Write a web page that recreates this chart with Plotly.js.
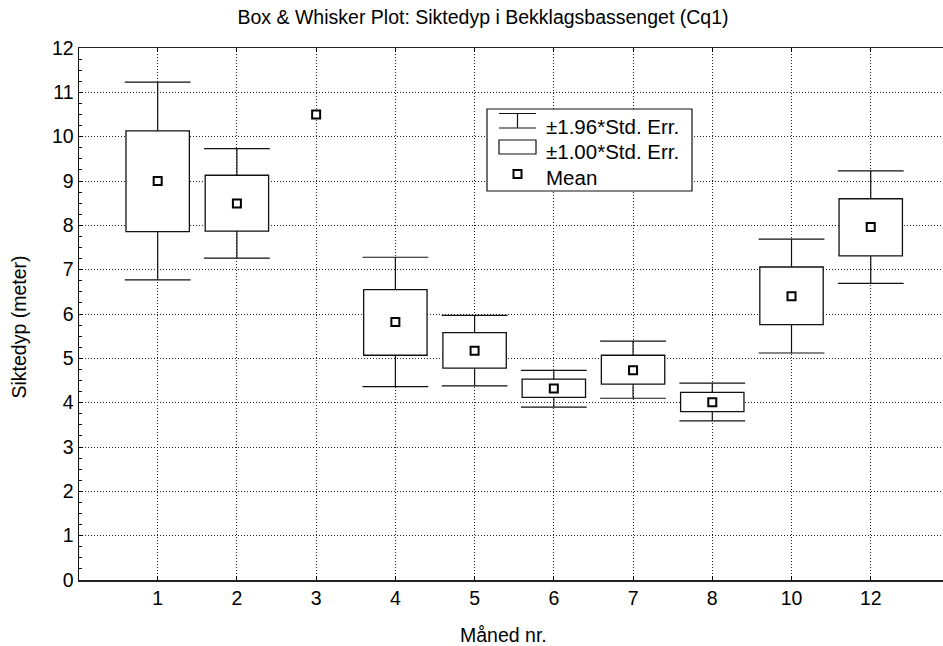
<!DOCTYPE html>
<html>
<head>
<meta charset="utf-8">
<script src="https://cdn.plot.ly/plotly-3.0.1.min.js"></script>
<style>html,body{margin:0;padding:0;background:#fff;}#chart{width:943px;height:646px;}</style>
</head>
<body>
<div id="chart"></div>
<script>
// Data
const months = ['1', '2', '3', '4', '5', '6', '7', '8', '10', '12'];
const means = [9.00, 8.49, 10.50, 5.82, 5.17, 4.32, 4.73, 4.01, 6.40, 7.96];
const boxLow = [7.86, 7.87, null, 5.07, 4.78, 4.12, 4.42, 3.80, 5.76, 7.31];   // mean - 1.00*SE
const boxHigh = [10.13, 9.13, null, 6.55, 5.58, 4.53, 5.07, 4.23, 7.06, 8.60]; // mean + 1.00*SE
const whiskerLow = [6.77, 7.26, null, 4.36, 4.38, 3.90, 4.10, 3.59, 5.12, 6.69];   // mean - 1.96*SE
const whiskerHigh = [11.23, 9.73, null, 7.28, 5.97, 4.73, 5.39, 4.44, 7.69, 9.23]; // mean + 1.96*SE
const yTicks = [0, 1, 2, 3, 4, 5, 6, 7, 8, 9, 10, 11, 12];

const FONT = 'Liberation Sans, Arial, sans-serif';
const FS = 19.5;

// whisker stems: box edge -> whisker end, separated by gaps
const stemX = [], stemY = [];
months.forEach((m, i) => {
  if (boxLow[i] === null) return;
  stemX.push(m, m, null, m, m, null);
  stemY.push(whiskerLow[i], boxLow[i], null, boxHigh[i], whiskerHigh[i], null);
});
const capX = [], capY = [];
months.forEach((m, i) => {
  if (whiskerLow[i] === null) return;
  capX.push(m, m);
  capY.push(whiskerLow[i], whiskerHigh[i]);
});

const traces = [
  {
    type: 'bar', name: '±1.00*Std. Err.', x: months,
    base: boxLow,
    y: boxHigh.map((h, i) => h === null ? null : h - boxLow[i]),
    width: 0.8,
    marker: {color: '#ffffff', line: {color: '#111', width: 1.3}},
    showlegend: false, hoverinfo: 'skip'
  },
  {
    type: 'scatter', mode: 'lines', name: '±1.96*Std. Err.', x: stemX, y: stemY,
    line: {color: '#111', width: 1.2}, connectgaps: false, showlegend: false, hoverinfo: 'skip'
  },
  {
    type: 'scatter', mode: 'markers', x: capX, y: capY, showlegend: false, hoverinfo: 'skip',
    marker: {symbol: 'line-ew', size: 47, line: {color: '#111', width: 1.2}}
  },
  {
    type: 'scatter', mode: 'markers', name: 'Mean', x: months, y: means, showlegend: false,
    marker: {symbol: 'square', size: 8, color: '#fff', line: {color: '#000', width: 2}}
  }
];

// pixel -> paper helpers for the hand-drawn legend
const L = 79, R = 943, T = 48, B = 580;
const px = v => (v - L) / (R - L);
const py = v => (B - v) / (B - T);

const shapes = [
  // legend frame
  {type: 'rect', xref: 'paper', yref: 'paper', x0: px(487), x1: px(692), y0: py(109), y1: py(191),
   line: {color: '#111', width: 1.2}, fillcolor: '#fff', layer: 'above'},
  // whisker symbol
  {type: 'line', xref: 'paper', yref: 'paper', x0: px(499), x1: px(536), y0: py(113.5), y1: py(113.5), line: {color: '#111', width: 1.2}, layer: 'above'},
  {type: 'line', xref: 'paper', yref: 'paper', x0: px(499), x1: px(536), y0: py(128), y1: py(128), line: {color: '#111', width: 1.2}, layer: 'above'},
  {type: 'line', xref: 'paper', yref: 'paper', x0: px(517.5), x1: px(517.5), y0: py(113.5), y1: py(128), line: {color: '#111', width: 1.2}, layer: 'above'},
  // box symbol
  {type: 'rect', xref: 'paper', yref: 'paper', x0: px(499), x1: px(536), y0: py(140), y1: py(154), line: {color: '#111', width: 1.2}, fillcolor: '#fff', layer: 'above'},
  // mean symbol
  {type: 'rect', xref: 'paper', yref: 'paper', x0: px(513.5), x1: px(521.5), y0: py(170), y1: py(178), line: {color: '#000', width: 2}, fillcolor: '#fff', layer: 'above'}
];

const legendTexts = ['±1.96*Std. Err.', '±1.00*Std. Err.', 'Mean'];
const legendY = [126.5, 151.5, 177.5];
const annotations = legendTexts.map((t, i) => ({
  text: t, xref: 'paper', yref: 'paper', x: px(544), y: py(legendY[i]),
  xanchor: 'left', yanchor: 'middle', showarrow: false,
  font: {family: FONT, size: 20.5, color: '#000'}
}));
annotations.push({
  text: 'Måned nr.', xref: 'paper', yref: 'paper', x: px(503), y: py(635),
  xanchor: 'center', yanchor: 'middle', showarrow: false,
  font: {family: FONT, size: FS, color: '#000'}
});
annotations.push({
  text: 'Siktedyp (meter)', xref: 'paper', yref: 'paper', x: px(18), y: py(327.5),
  xanchor: 'center', yanchor: 'middle', showarrow: false, textangle: -90,
  font: {family: FONT, size: FS, color: '#000'}
});

const layout = {
  width: 943, height: 646,
  margin: {l: L, r: 943 - R, t: T, b: 646 - B, pad: 0},
  paper_bgcolor: '#fff', plot_bgcolor: '#fff',
  font: {family: FONT, size: FS, color: '#000'},
  title: {text: 'Box & Whisker Plot: Siktedyp i Bekklagsbassenget (Cq1)',
          xref: 'paper', x: px(483), xanchor: 'center',
          yref: 'container', y: 1 - 17 / 646, yanchor: 'middle',
          font: {family: FONT, size: FS, color: '#000'}},
  showlegend: false,
  xaxis: {
    type: 'category', categoryorder: 'array', categoryarray: months,
    range: [-0.993, 9.912],
    showline: true, linecolor: '#222', linewidth: 1.5, mirror: 'ticks',
    ticks: 'inside', ticklen: 4, tickcolor: '#000',
    showgrid: true, gridcolor: '#222', griddash: '1px,2px', gridwidth: 1,
    zeroline: false, tickfont: {family: FONT, size: FS, color: '#000'}
  },
  yaxis: {
    range: [0, 12], tickvals: yTicks, ticktext: yTicks.map(String),
    showline: true, linecolor: '#111', linewidth: 1.5, mirror: false,
    ticks: 'inside', ticklen: 4, tickcolor: '#000',
    minor: {dtick: 0.25, tick0: 0, ticks: 'inside', ticklen: 3, tickcolor: '#000', showgrid: false},
    showgrid: true, gridcolor: '#222', griddash: '1px,2px', gridwidth: 1,
    zeroline: false, tickfont: {family: FONT, size: FS, color: '#000'}
  },
  shapes: shapes,
  annotations: annotations,
  bargap: 0
};

Plotly.newPlot('chart', traces, layout, {staticPlot: true, displayModeBar: false});
</script>
</body>
</html>
